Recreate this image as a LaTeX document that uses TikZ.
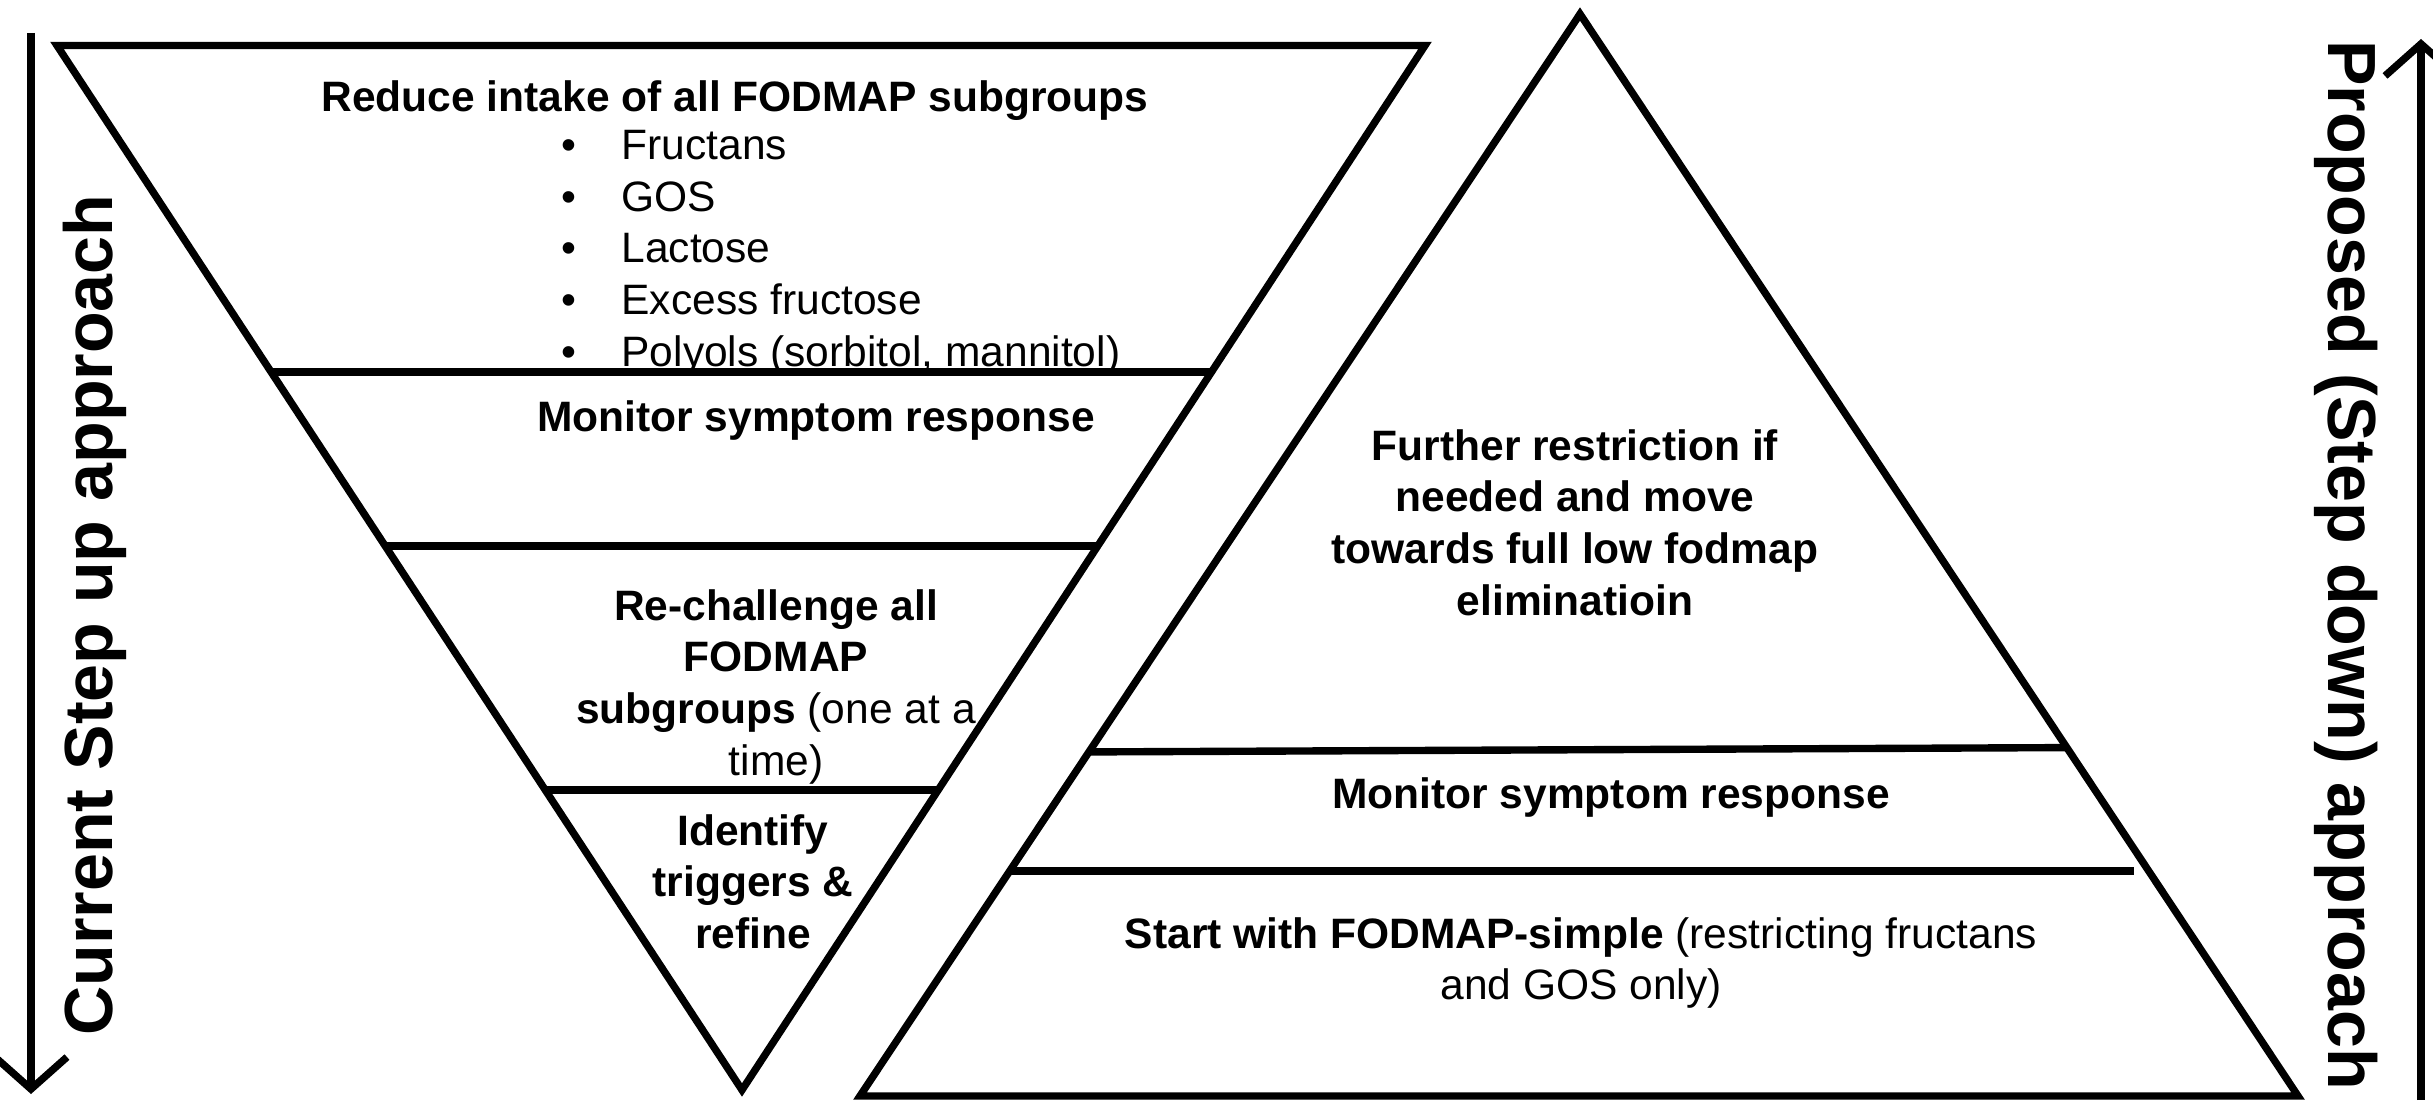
\documentclass[tikz,border=0pt]{standalone}
\usepackage{fontspec}
\setmainfont{Liberation Sans}
\usetikzlibrary{arrows.meta}
\usetikzlibrary{calc}

\begin{document}
\begin{tikzpicture}[every path/.style={line width=2.1pt},
    txt/.style={font=\fontsize{12.1}{14.7}\selectfont, align=center, inner sep=0pt, anchor=north},
    side/.style={font=\fontsize{19.4}{23}\selectfont\bfseries, inner sep=0pt},
    updown/.style={-{Straight Barb[length=3.2mm, width=7.2mm]}}]

    \useasboundingbox (0,0) rectangle (24.33,11.02);

    % step up (left)
    \coordinate (lt) at (0.57,10.565);
    \coordinate (rt) at (14.25,10.565);
    \coordinate (lb) at (7.42,0.12);
    \draw[line join=miter] (lt) -- (rt) -- (lb) -- cycle;
    \foreach \t in {0.3126,0.4792,0.7128}
        \draw ($(lt)!\t!(lb)$) -- ($(rt)!\t!(lb)$);

    % step down (right)
    \coordinate (ap) at (15.80,10.88);
    \coordinate (bl) at (8.60,0.06);
    \coordinate (br) at (22.98,0.06);
    \draw[line join=miter] (ap) -- (br) -- (bl) -- cycle;
    \draw ($(ap)!0.682!(bl)$) -- ($(ap)!0.678!(br)$);
    \draw ($(ap)!0.792!(bl)$) -- ($(ap)!0.792!(br)+(-0.15,0)$);

    \node[txt] (reduce) at (7.35,10.255) {\textbf{Reduce intake of all FODMAP subgroups}};
    \node[txt, align=left, anchor=north west] (groups) at (5.58,9.755)
        {\makebox[1.41em][l]{•}Fructans\\ \makebox[1.41em][l]{•}GOS\\ \makebox[1.41em][l]{•}Lactose\\
         \makebox[1.41em][l]{•}Excess fructose\\ \makebox[1.41em][l]{•}Polyols (sorbitol, mannitol)};
    \node[txt] (monL) at (8.16,7.055) {\textbf{Monitor symptom response}};
    \node[txt] (rechal) at (7.76,5.165) {\textbf{Re-challenge all}\\ \textbf{FODMAP}\\ \textbf{subgroups} (one at a\\ time)};
    \node[txt] (ident) at (7.53,2.915) {\textbf{Identify}\\ \textbf{triggers \&}\\ \textbf{refine}};

    \node[txt] (further) at (15.75,6.765) {\textbf{Further restriction if}\\ \textbf{needed and move}\\ \textbf{towards full low fodmap}\\ \textbf{eliminatioin}};
    \node[txt] (monR) at (16.11,3.285) {\textbf{Monitor symptom response}};
    \node[txt] (start) at (15.81,1.885) {\textbf{Start with FODMAP-simple} (restricting fructans\\ and GOS only)};

    % side arrows
    \coordinate (d1) at (0.31,10.69);
    \coordinate (d2) at (0.31,0.08);
    \draw[updown] (d1) -- (d2);
    \node[side, rotate=90] (cur) at (0.95,4.87) {Current Step up approach};

    \coordinate (u1) at (24.21,0.02);
    \coordinate (u2) at (24.21,10.63);
    \draw[updown] (u1) -- (u2);
    \node[side, rotate=-90] (prop) at (23.46,5.37) {Proposed (Step down) approach};

\end{tikzpicture}
\end{document}
